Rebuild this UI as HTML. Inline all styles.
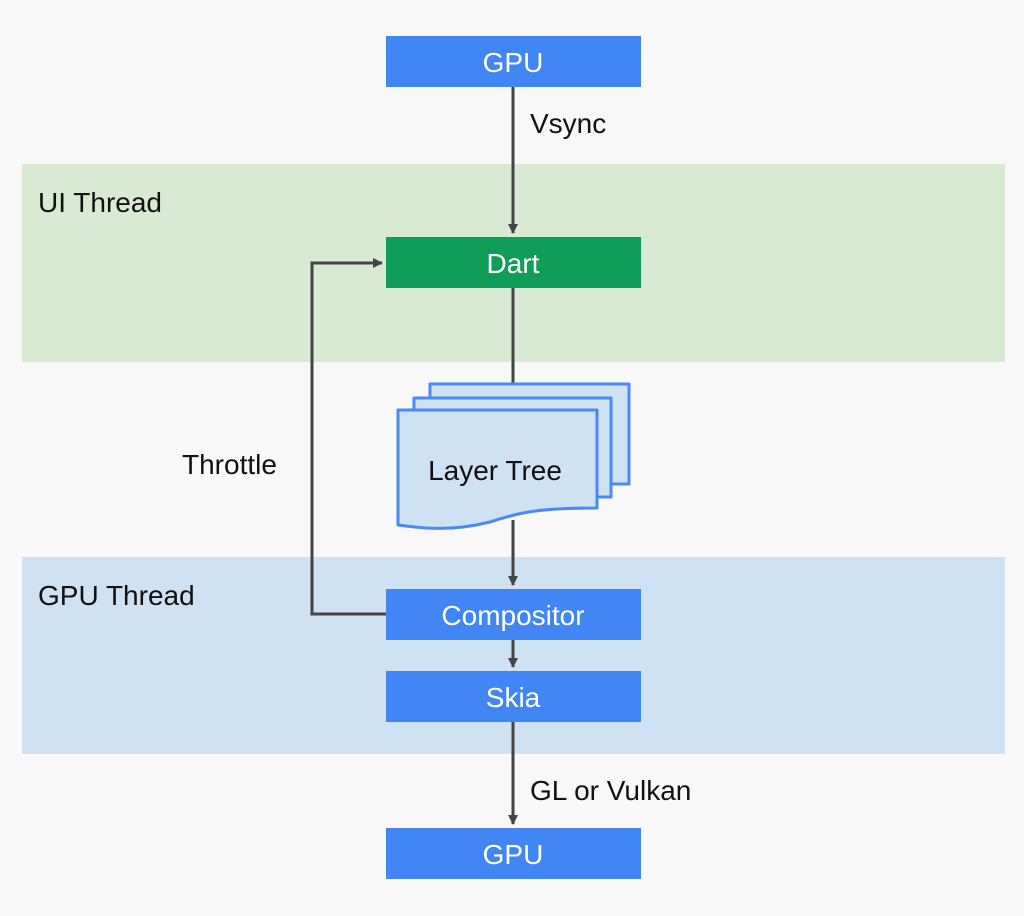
<!DOCTYPE html>
<html><head><style>
body{margin:0;width:1024px;height:911px;background:#f8f8f8;overflow:hidden}
svg text{font-family:"Liberation Sans",sans-serif}
</style></head><body>
<svg width="1024" height="911" viewBox="0 0 1024 911">
<defs><marker id="a" markerWidth="10" markerHeight="10" refX="9" refY="5" orient="auto" markerUnits="userSpaceOnUse"><path d="M0,0 L10,5 L0,10 z" fill="#444"/></marker></defs>
<rect x="22" y="164" width="983" height="198" fill="#d9ead3"/>
<rect x="22" y="557" width="983" height="197" fill="#cfe2f3"/>
<text x="38" y="212" font-size="28" fill="#111">UI Thread</text>
<text x="38" y="605" font-size="28" fill="#111">GPU Thread</text>
<g stroke="#444" stroke-width="3" fill="none">
<line x1="513" y1="87" x2="513" y2="233" marker-end="url(#a)"/>
<line x1="513" y1="288" x2="513" y2="385"/>
<line x1="513" y1="520" x2="513" y2="585" marker-end="url(#a)"/>
<line x1="513" y1="640" x2="513" y2="667" marker-end="url(#a)"/>
<line x1="513" y1="722" x2="513" y2="824" marker-end="url(#a)"/>
<polyline points="386,614 312,614 312,263 382,263" marker-end="url(#a)"/>
</g>
<text x="530" y="133" font-size="28" fill="#111">Vsync</text>
<text x="530" y="800" font-size="28" fill="#111">GL or Vulkan</text>
<text x="182" y="474" font-size="28" fill="#111">Throttle</text>
<g fill="#cfe2f3" stroke="#4a8af4" stroke-width="3" stroke-linejoin="round">
<rect x="430" y="384" width="199" height="100"/>
<rect x="414" y="398" width="197" height="99"/>
<path d="M398,410 H597 V508 C540,508 520,512 490,522 C450,532 420,528 398,525 Z"/>
</g>
<text x="495" y="480" font-size="28" fill="#111" text-anchor="middle">Layer Tree</text>
<g font-size="28" fill="#fff" text-anchor="middle">
<rect x="386" y="36" width="255" height="51" fill="#4285f4"/><text x="513" y="72">GPU</text>
<rect x="386" y="237" width="255" height="51" fill="#0f9d58"/><text x="513" y="273">Dart</text>
<rect x="386" y="589" width="255" height="51" fill="#4285f4"/><text x="513" y="625">Compositor</text>
<rect x="386" y="671" width="255" height="51" fill="#4285f4"/><text x="513" y="707">Skia</text>
<rect x="386" y="828" width="255" height="51" fill="#4285f4"/><text x="513" y="864">GPU</text>
</g>
</svg>
</body></html>
